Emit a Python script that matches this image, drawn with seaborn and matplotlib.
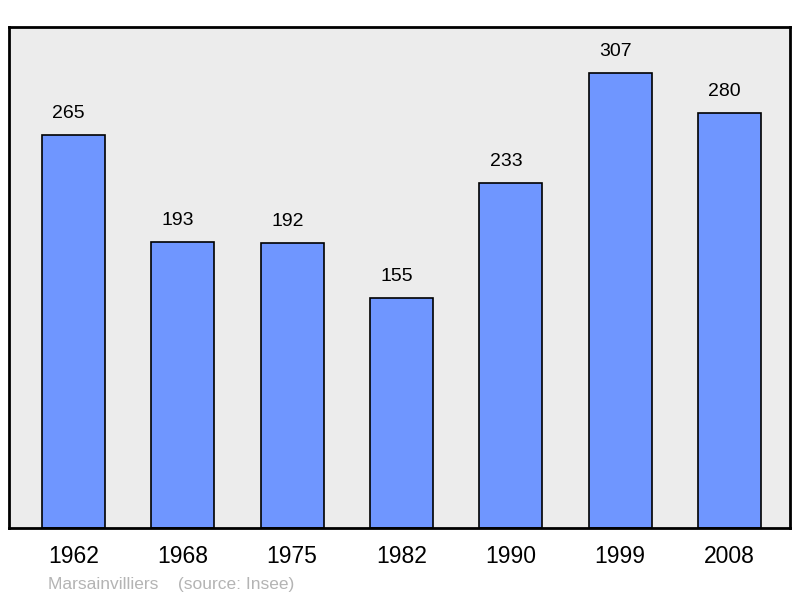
# Population chart for Marsainvilliers, bars with labels on top
import pandas as pd
import matplotlib.pyplot as plt
import seaborn as sns

# data
years = ["1962", "1968", "1975", "1982", "1990", "1999", "2008"]
population = [265, 193, 192, 155, 233, 307, 280]

df = pd.DataFrame({"year": years, "population": population})

sns.set_style("white")
plt.rcParams['font.family'] = ['Liberation Sans', 'DejaVu Sans']
plt.rcParams['text.color'] = 'black'
plt.rcParams['xtick.color'] = 'black'

fig = plt.figure(figsize=(8, 5.98), dpi=100)
ax = fig.add_axes([0.01125, 0.117, 0.97625, 0.8378])
ax.set_facecolor("#ececec")

sns.barplot(data=df, x="year", y="population", color="#6f96ff", saturation=1,
            width=0.576, edgecolor="black", linewidth=1.2, ax=ax)

# value labels above each bar (sit a bit left of bar centre)
for i, v in enumerate(population):
    ax.text(i - 0.045, v + 14.5, str(v), ha="center", va="center", fontsize=14, color="black")

ax.set_ylim(0, 338)
ax.set_xlim(-0.59, 6.553)
ax.set_xlabel("")
ax.set_ylabel("")
ax.set_yticks([])
ax.tick_params(axis="x", length=0, labelsize=16.5, pad=12, labelcolor="black")

for s in ax.spines.values():
    s.set_visible(True)
    s.set_color("black")
    s.set_linewidth(2)

fig.text(48 / 800, 1 - 584 / 598, "Marsainvilliers    (source: Insee)",
         fontsize=12.5, color="#b4b4b4", ha="left", va="center")

fig.savefig("out.png", dpi=100)
